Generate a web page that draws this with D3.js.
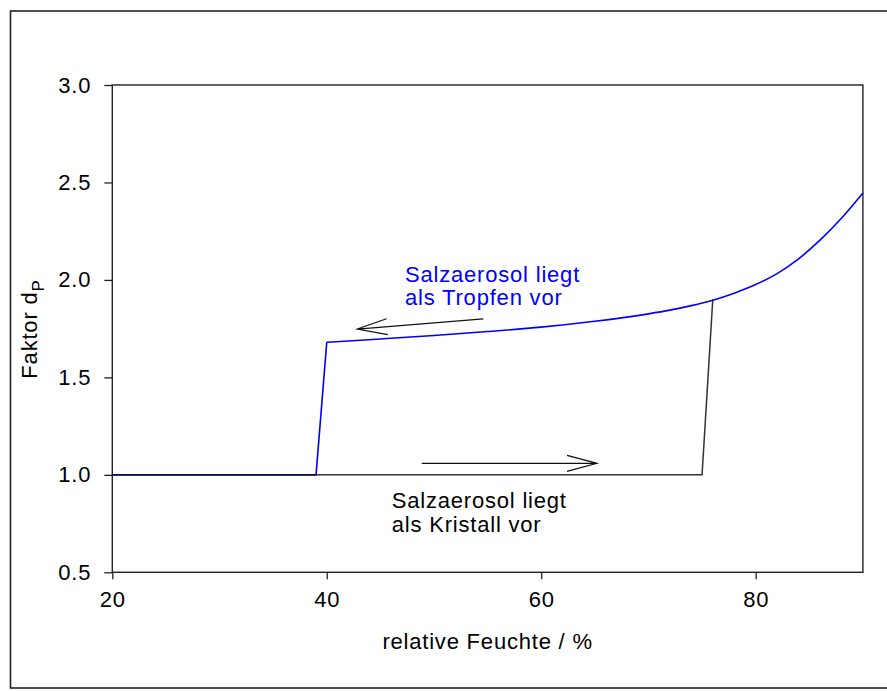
<!DOCTYPE html>
<html>
<head>
<meta charset="utf-8">
<script src="https://cdn.jsdelivr.net/npm/d3@7"></script>
<style>
  body { margin: 0; background: #fff; }
  svg text { font-family: "Liberation Sans", Arial, sans-serif; font-size: 22px; letter-spacing: 0.8px; }
</style>
</head>
<body>
<svg id="chart" width="887" height="691"></svg>
<script>
// data (relative humidity in %, factor d_P)
const crystalX = [20, 75, 76];
const crystalY = [1.0, 1.0, 1.9];

const dropX = [20, 39, 40, 45, 50, 55, 60, 65, 70, 72, 74, 76, 78, 80, 82, 84, 86, 88, 90];
const dropY = [1.0, 1.0, 1.68, 1.697, 1.715, 1.735, 1.758, 1.788, 1.826, 1.845, 1.868, 1.896, 1.932, 1.976, 2.032, 2.108, 2.204, 2.316, 2.446];

const xTicks = [20, 40, 60, 80];
const yTicks = [0.5, 1.0, 1.5, 2.0, 2.5, 3.0];

// annotation arrows [x1, y1, x2, y2] in data units, tip at (x2, y2)
const arrows = [
    [54.6, 1.80, 42.85, 1.748],
    [48.86, 1.059, 65.2, 1.059]
];
const notes = [
    {x: 47.3, y: 1.991, lines: ['Salzaerosol liegt', 'als Tropfen vor'], color: '#0000ff'},
    {x: 46.06, y: 0.828, lines: ['Salzaerosol liegt', 'als Kristall vor'], color: '#000'}
];

const svg = d3.select('#chart');
const margin = {left: 112.3, right: 887 - 862.9, top: 85, bottom: 691 - 572.3};
const width = 887, height = 691;

// outer frame
svg.append('rect')
    .attr('x', 10.5).attr('y', 11)
    .attr('width', 890).attr('height', 677)
    .attr('fill', 'none')
    .attr('stroke', '#222')
    .attr('stroke-width', 1.6);

let xScale = d3.scaleLinear()
    .domain([20, 90])
    .range([margin.left, width - margin.right]);
let yScale = d3.scaleLinear()
    .domain([0.5, 3.0])
    .range([height - margin.bottom, margin.top]);

// plot box
svg.append('rect')
    .attr('x', xScale(20)).attr('y', yScale(3))
    .attr('width', xScale(90) - xScale(20))
    .attr('height', yScale(0.5) - yScale(3))
    .attr('fill', 'none')
    .attr('stroke', '#222')
    .attr('stroke-width', 1.4);

// x axis
let xAxis = d3.axisBottom(xScale)
    .tickValues(xTicks)
    .tickSize(7)
    .tickPadding(12)
    .tickFormat(d3.format('d'));
svg.append('g')
    .attr('transform', `translate(0, ${yScale(0.5)})`)
    .call(xAxis)
    .call(g => g.select('.domain').remove())
    .call(g => g.selectAll('line').attr('stroke', '#222').attr('stroke-width', 1.3))
    .call(g => g.selectAll('text').attr('fill', '#000').style('font-size', '22px')
        .attr('font-family', null));

// y axis
let yAxis = d3.axisLeft(yScale)
    .tickValues(yTicks)
    .tickSize(8)
    .tickPadding(13)
    .tickFormat(d3.format('.1f'));
svg.append('g')
    .attr('transform', `translate(${xScale(20)}, 0)`)
    .call(yAxis)
    .call(g => g.select('.domain').remove())
    .call(g => g.selectAll('line').attr('stroke', '#222').attr('stroke-width', 1.3))
    .call(g => g.selectAll('text').attr('fill', '#000').style('font-size', '22px')
        .attr('font-family', null));

// axis labels
svg.append('text')
    .attr('x', (xScale(20) + xScale(90)) / 2)
    .attr('y', 649)
    .attr('text-anchor', 'middle')
    .text('relative Feuchte / %');

let yLabel = svg.append('text')
    .attr('transform', 'translate(37, 329) rotate(-90)')
    .attr('text-anchor', 'middle');
yLabel.append('tspan').text('Faktor d');
yLabel.append('tspan')
    .attr('dy', 7)
    .style('font-size', '17px')
    .text('P');

// curves
const line = d3.line()
    .x(d => xScale(d[0]))
    .y(d => yScale(d[1]));
const smooth = d3.line()
    .x(d => xScale(d[0]))
    .y(d => yScale(d[1]))
    .curve(d3.curveMonotoneX);

let dropData = dropX.map((x, i) => [x, dropY[i]]);
svg.append('path')
    .datum(dropData.slice(0, 3))
    .attr('d', line)
    .attr('fill', 'none')
    .attr('stroke', '#0000ff')
    .attr('stroke-width', 1.6);
svg.append('path')
    .datum(dropData.slice(2))
    .attr('d', smooth)
    .attr('fill', 'none')
    .attr('stroke', '#0000ff')
    .attr('stroke-width', 1.6);

svg.append('path')
    .datum(crystalX.map((x, i) => [x, crystalY[i]]))
    .attr('d', line)
    .attr('fill', 'none')
    .attr('stroke', '#111')
    .attr('stroke-width', 1.5)
    .attr('stroke-opacity', 0.85);

// arrows with open heads
arrows.forEach(a => {
    let x1 = xScale(a[0]), y1 = yScale(a[1]), x2 = xScale(a[2]), y2 = yScale(a[3]);
    let ang = Math.atan2(y1 - y2, x1 - x2);
    let len = 31, spread = 0.26;
    let w1 = [x2 + len * Math.cos(ang - spread), y2 + len * Math.sin(ang - spread)];
    let w2 = [x2 + len * Math.cos(ang + spread), y2 + len * Math.sin(ang + spread)];
    svg.append('path')
        .attr('d', `M${x1},${y1}L${x2},${y2}M${w1[0]},${w1[1]}L${x2},${y2}L${w2[0]},${w2[1]}`)
        .attr('fill', 'none')
        .attr('stroke', '#111')
        .attr('stroke-width', 1.2);
});

// notes
notes.forEach(n => {
    let t = svg.append('text')
        .attr('x', xScale(n.x))
        .attr('y', yScale(n.y))
        .attr('fill', n.color);
    n.lines.forEach((s, i) => {
        t.append('tspan')
            .attr('x', xScale(n.x))
            .attr('dy', i === 0 ? 0 : 23.5)
            .text(s);
    });
});
</script>
</body>
</html>
